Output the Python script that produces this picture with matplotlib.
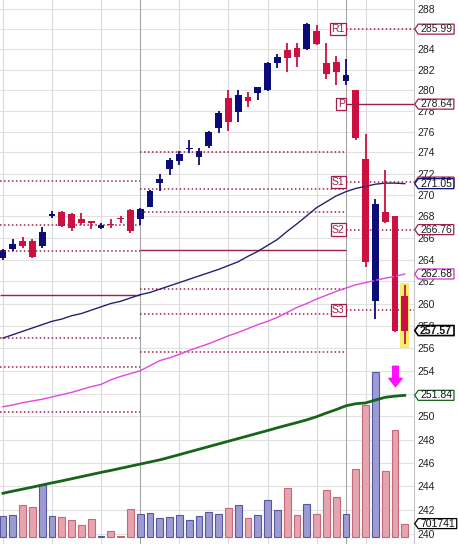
import matplotlib
matplotlib.use('Agg')
import matplotlib.pyplot as plt
import matplotlib.transforms as mtransforms
import numpy as np
from matplotlib.path import Path
from matplotlib.ticker import FixedLocator, NullLocator, FuncFormatter

plt.rcParams['font.family'] = ['Liberation Sans', 'DejaVu Sans']

# Daily candles, oldest first
opens = [264.1, 265.0, 265.7, 265.7, 265.2, 268.0, 268.4, 268.2, 267.7, 267.6,
         266.9, 267.3, 267.85, 268.6, 267.75, 268.85, 271.1, 272.4, 273.2, 274.3,
         273.6, 274.6, 276.3, 279.2, 277.9, 279.3, 279.7, 280.0, 282.6, 283.9,
         284.1, 284.0, 285.8, 282.6, 282.7, 280.9, 280.0, 273.4, 260.2, 268.4,
         268.0, 260.7]
highs = [265.0, 265.9, 266.1, 265.85, 267.0, 268.5, 268.5, 268.3, 268.3, 267.6,
         267.4, 267.7, 268.0, 268.7, 268.8, 270.5, 272.0, 273.5, 274.1, 275.15,
         274.45, 276.1, 278.0, 280.0, 280.0, 279.8, 280.3, 282.7, 283.5, 284.6,
         284.6, 286.6, 286.4, 284.6, 283.3, 283.0, 280.05, 275.8, 269.6, 272.3,
         268.05, 261.7]
lows = [264.0, 264.8, 265.1, 264.15, 265.1, 267.85, 267.0, 266.6, 267.2, 266.8,
        266.8, 266.95, 267.4, 266.4, 267.2, 268.85, 270.4, 271.85, 272.8, 273.95,
        272.8, 274.45, 275.9, 276.1, 276.9, 278.4, 279.0, 279.95, 282.2, 281.8,
        282.3, 283.9, 284.4, 281.1, 280.5, 280.5, 275.2, 263.3, 258.6, 267.4,
        257.45, 256.35]
closes = [264.9, 265.4, 265.2, 264.2, 266.5, 268.2, 267.1, 266.9, 267.4, 267.4,
          267.2, 267.15, 267.75, 266.6, 268.7, 270.4, 271.5, 273.3, 273.9, 274.45,
          274.1, 276.0, 277.8, 276.9, 279.5, 278.9, 280.3, 282.6, 283.2, 283.1,
          283.2, 286.5, 284.5, 281.6, 281.8, 281.5, 275.4, 263.8, 269.1, 267.5,
          257.5, 257.57]
volume = [1084000, 1136000, 1660000, 1555000, 2744000, 1084000, 1032000, 875000, 613000, 927000,
          60000, 335000, 60000, 1451000, 1189000, 1241000, 979000, 1032000, 1136000, 875000,
          1084000, 1294000, 1189000, 1503000, 1660000, 979000, 1136000, 1922000, 1398000, 2550000,
          1136000, 1749000, 1225000, 2446000, 2079000, 1225000, 3582000, 6897000, 8641000, 3441000,
          5625000, 701741]

# Moving averages
ma_navy = [256.9, 257.2, 257.5, 257.8, 258.1, 258.4, 258.6, 258.9, 259.1, 259.4,
           259.7, 260.0, 260.2, 260.5, 260.8, 261.0, 261.3, 261.6, 261.9, 262.2,
           262.5, 262.8, 263.1, 263.45, 263.8, 264.3, 264.75, 265.3, 265.85, 266.6,
           267.3, 268.05, 268.8, 269.35, 269.9, 270.3, 270.6, 270.8, 271.0, 271.1,
           271.1, 271.05]
ma_magenta = [250.85, 251.0, 251.2, 251.35, 251.5, 251.7, 251.9, 252.1, 252.35, 252.6,
              252.8, 253.2, 253.5, 253.75, 254.0, 254.45, 254.9, 255.15, 255.45, 255.8,
              256.1, 256.4, 256.75, 257.1, 257.4, 257.75, 258.1, 258.4, 258.75, 259.2,
              259.65, 260.0, 260.4, 260.75, 261.1, 261.4, 261.7, 261.9, 262.1, 262.3,
              262.45, 262.68]
ma_green = [243.42, 243.6, 243.77, 243.94, 244.12, 244.3, 244.47, 244.65, 244.83, 245.01,
            245.19, 245.36, 245.54, 245.72, 245.9, 246.08, 246.26, 246.48, 246.71, 246.94,
            247.17, 247.4, 247.63, 247.86, 248.09, 248.32, 248.55, 248.78, 249.02, 249.25,
            249.47, 249.71, 249.98, 250.3, 250.6, 250.93, 251.11, 251.18, 251.43, 251.67,
            251.77, 251.84]

# Pivot levels of the two previous months (R3..S3, pivot in the middle)
pivots_m1 = [271.3, 267.2, 264.8, 260.8, 256.9, 254.3, 250.4]
pivots_m2 = [274.05, 270.55, 268.4, 264.85, 261.3, 259.1, 255.7]
# Current month
cur_names = ['R1', 'P', 'S1', 'S2', 'S3']
cur_levels = [285.99, 278.64, 271.2, 266.76, 259.4]
cur_tags = ['285.99', '278.64', '271.20', '266.76', '']

month_starts = [14, 35]
week_lines = [0, 5, 10, 18, 23, 27, 32, 37]
price_ticks = list(range(240, 290, 2))
hidden_ticks = [252, 286]  # covered by the value tags

navy = '#0c0c78'
crimson = '#cc1040'
pivot_col = '#9e1f4a'

opens = np.array(opens)
closes = np.array(closes)
x = np.arange(len(closes))
up = closes >= opens


def tag_box(x0, y0, width, height, mutation_size):
    px = 0.18 * mutation_size
    x0 = x0 - px
    x1 = x0 + width + 2 * px
    y1 = y0 + height
    tip = 0.35 * height
    ym = (y0 + y1) / 2
    return Path([(x0 - tip, ym), (x0, y0), (x1, y0), (x1, y1), (x0, y1), (x0 - tip, ym)], closed=True)


def tick_fmt(v, pos):
    if int(round(v)) in hidden_ticks:
        return ''
    return '%d' % v


fig = plt.figure(figsize=(4.6, 5.44), dpi=100)
ax = fig.add_axes([0, 0, 414 / 460, 1])
ax.set_yscale('log')
ax.set_xlim(-0.306, 41.94)
ax.set_ylim(239.17, 288.90)

# volume on its own scale, below the price marks
axv = ax.twinx()
axv.set_ylim(-7 * 52370, 537 * 52370)
axv.set_yticks([])
for s in axv.spines.values():
    s.set_visible(False)

ax.yaxis.tick_right()
ax.yaxis.set_major_locator(FixedLocator(price_ticks))
ax.yaxis.set_minor_locator(NullLocator())
ax.yaxis.set_major_formatter(FuncFormatter(tick_fmt))
ax.tick_params(axis='y', which='both', length=0, pad=2.8, labelsize=7.5, labelcolor='#222222')
ax.set_xticks([])
for name, s in ax.spines.items():
    s.set_visible(name == 'right')
ax.spines['right'].set_color('#c4c4c4')

# grid
for p in price_ticks:
    ax.axhline(p, color='#e2e2e2', lw=0.8, zorder=0)
for i in week_lines:
    ax.axvline(i, color='#dadada', lw=0.8, zorder=0)
for i in month_starts:
    ax.axvline(i, color='#a6a6a6', lw=0.8, zorder=0)

# volume bars
axv.bar(x, volume, width=0.7, color=np.where(up, '#9c9cd2', '#e6a4ae'),
        edgecolor=np.where(up, '#5858a0', '#c4687a'), linewidth=0.8)

# top layer for price marks
axc = fig.add_axes(ax.get_position(), sharex=ax, sharey=ax)
axc.set_axis_off()

# pivot lines
for k, lv in enumerate(pivots_m1):
    axc.hlines(lv, -0.306, month_starts[0], color=pivot_col, lw=1.0 if k == 3 else 1.1,
               linestyles='-' if k == 3 else (0, (1, 1.6)))
for k, lv in enumerate(pivots_m2):
    axc.hlines(lv, month_starts[0], month_starts[1], color=pivot_col, lw=1.0 if k == 3 else 1.1,
               linestyles='-' if k == 3 else (0, (1, 1.6)))
for name, lv in zip(cur_names, cur_levels):
    axc.hlines(lv, month_starts[1], 41.94, color=pivot_col, lw=1.0 if name == 'P' else 1.1,
               linestyles='-' if name == 'P' else (0, (1, 1.6)))
    axc.text(month_starts[1] - 0.15, lv, name, ha='right', va='center', fontsize=7.5, color=pivot_col,
             bbox=dict(boxstyle='square,pad=0.12', fc='white', ec=pivot_col, lw=0.9))

# moving averages
axc.plot(x, ma_green, color='#17641a', lw=2.0)
axc.plot(x, ma_magenta, color='#e048e0', lw=1.0)
axc.plot(x, ma_navy, color='#232370', lw=1.0)

# highlight of the last candle
axc.bar(x[-1], highs[-1] - lows[-1] + 0.5, bottom=lows[-1] - 0.3, width=0.95, color='#f4ec6c')

# candles
cols = np.where(up, navy, crimson)
axc.vlines(x, lows, highs, colors=cols, lw=1.3)
body_lo = np.minimum(opens, closes)
body_h = np.maximum(np.abs(closes - opens), 0.12)
axc.bar(x, body_h, bottom=body_lo, width=0.7, color=cols)

# signal arrow
axc.annotate('', xy=(40.05, 252.6), xytext=(40.05, 254.4),
             arrowprops=dict(arrowstyle='simple,head_length=0.6,head_width=0.95,tail_width=0.4',
                             fc='#ff10ff', ec='#ff10ff', shrinkA=0, shrinkB=0))

# value tags on the right
tr = mtransforms.blended_transform_factory(ax.transAxes, ax.transData)
for lv, t in zip(cur_levels, cur_tags):
    if t == '':
        continue
    axc.annotate(t, xy=(1, lv), xycoords=tr, xytext=(4.4, 0),
                 textcoords='offset points', ha='left', va='center', fontsize=7.5, color='#222222',
                 bbox=dict(boxstyle=tag_box, fc='white', ec=pivot_col, lw=0.9))
tags = [(ma_navy[-1], '%.2f' % ma_navy[-1], navy, 'normal'),
        (ma_magenta[-1], '%.2f' % ma_magenta[-1], '#cc33cc', 'normal'),
        (ma_green[-1], '%.2f' % ma_green[-1], '#17641a', 'normal'),
        (closes[-1], '%.2f' % closes[-1], 'black', 'bold')]
for lv, t, ec, fw in tags:
    axc.annotate(t, xy=(1, lv), xycoords=tr, xytext=(4.4, 0), textcoords='offset points',
                 ha='left', va='center', fontsize=7.5, color='#111111', fontweight=fw,
                 bbox=dict(boxstyle=tag_box, fc='white', ec=ec, lw=1.2 if fw == 'bold' else 0.9))
trv = mtransforms.blended_transform_factory(axv.transAxes, axv.transData)
axv.annotate('%d' % volume[-1], xy=(1, volume[-1]), xycoords=trv, xytext=(4.4, 0),
             textcoords='offset points', ha='left', va='center', fontsize=7.5, color='#111111',
             bbox=dict(boxstyle=tag_box, fc='white', ec='black', lw=0.9))

fig.savefig('out.png', dpi=100)
